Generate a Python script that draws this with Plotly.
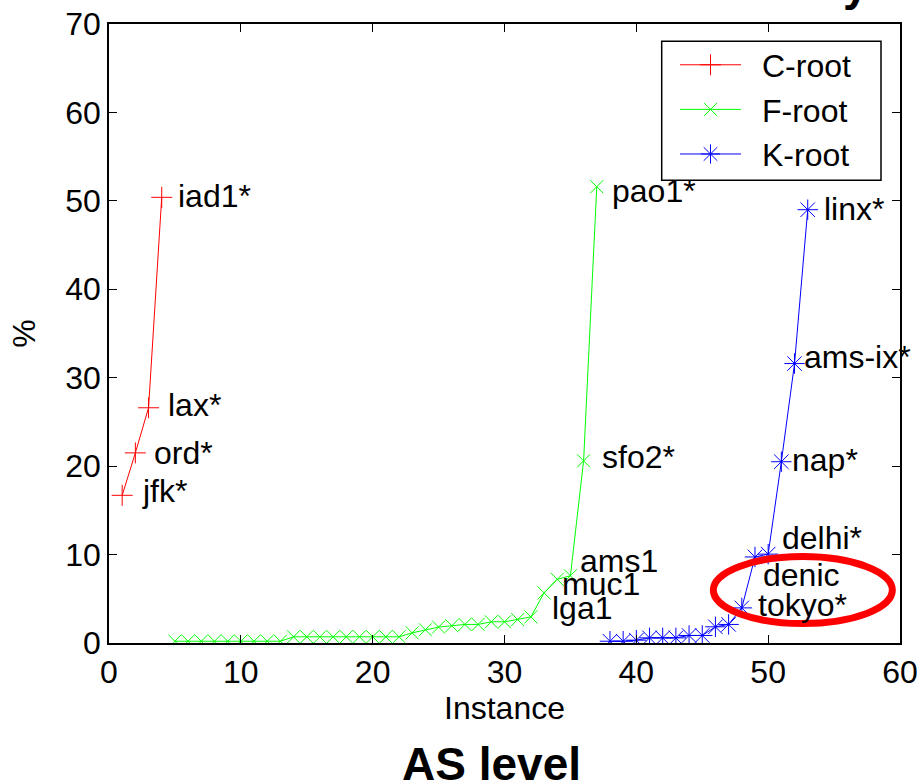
import plotly.graph_objects as go

# C-root instances
c_x = [1, 2, 3, 4]
c_y = [16.7, 21.5, 26.6, 50.4]
c_labels = ["jfk*", "ord*", "lax*", "iad1*"]

# F-root instances
f_x = list(range(5, 38))
f_y = [0.2, 0.2, 0.2, 0.2, 0.2, 0.2, 0.2, 0.2, 0.2,
       0.7, 0.7, 0.7, 0.7, 0.7, 0.7, 0.7, 0.7, 0.7,
       1.15, 1.5, 1.8, 1.95, 2.1, 2.1, 2.4, 2.4, 2.65, 2.95,
       5.67, 7.2, 7.6, 20.6, 51.6]

# K-root instances
k_x = list(range(38, 54))
k_y = [0.2, 0.2, 0.32, 0.58, 0.58, 0.58, 0.85, 0.85, 1.83, 2.1,
       3.97, 9.73, 10.05, 20.5, 31.6, 49.0]

# (series, instance x, label, xshift px, yshift px)
point_labels = [
    ("C", 1, "jfk*", 18, 4), ("C", 2, "ord*", 17, 0),
    ("C", 3, "lax*", 17, 3), ("C", 4, "iad1*", 14, 1),
    ("F", 33, "lga1", 6, -15), ("F", 34, "muc1", 3, -5),
    ("F", 35, "ams1", 8, 15), ("F", 36, "sfo2*", 16, 4),
    ("F", 37, "pao1*", 13, -4),
    ("K", 48, "tokyo*", 14, 3), ("K", 49, "denic", 6, -18),
    ("K", 50, "delhi*", 12, 16), ("K", 51, "nap*", 9, 2),
    ("K", 52, "ams-ix*", 7, 7), ("K", 53, "linx*", 14, 1),
]

x_ticks = [0, 10, 20, 30, 40, 50, 60]
y_ticks = [0, 10, 20, 30, 40, 50, 60, 70]

FONT = "Arial, Liberation Sans, Helvetica, sans-serif"

series = {
    "C": (c_x, c_y, "C-root", "#ff0000", "cross-thin-open", 15),
    "F": (f_x, f_y, "F-root", "#00ff00", "x-thin-open", 13),
    "K": (k_x, k_y, "K-root", "#0000ff", "asterisk-open", 17),
}

# plot-area pixel geometry, used to place the legend frame and captions
L, R, T, B = 109, 900, 23.5, 643.5


def px_to_paper_x(p):
    return (p - L) / (R - L)


def px_to_paper_y(p):
    return (B - p) / (B - T)


fig = go.Figure()
for key, (xs, ys, name, color, symbol, size) in series.items():
    fig.add_trace(go.Scatter(
        x=xs, y=ys, name="\u2002" + name, mode="lines+markers",
        line=dict(color=color, width=1),
        marker=dict(symbol=symbol, size=size, color=color,
                    line=dict(color=color, width=1)),
    ))

annotations = []
for key, xi, text, dx, dy in point_labels:
    xs, ys = series[key][0], series[key][1]
    yi = ys[xs.index(xi)]
    annotations.append(dict(
        x=xi, y=yi, xref="x", yref="y", text=text, showarrow=False,
        xanchor="left", yanchor="middle", xshift=dx, yshift=dy,
        font=dict(family=FONT, size=32, color="black"),
    ))

# chart caption below the axes
annotations.append(dict(
    x=0.483, y=-0.195, xref="paper", yref="paper", text="<b>AS level</b>",
    showarrow=False, xanchor="center", yanchor="middle",
    font=dict(family=FONT, size=46, color="black"),
))
# tail of the heading above the frame
annotations.append(dict(
    x=px_to_paper_x(856), y=px_to_paper_y(11), xref="paper", yref="paper",
    text="<b>y</b>", showarrow=False, xanchor="center", yanchor="bottom",
    font=dict(family=FONT, size=46, color="black"),
))

fig.update_layout(
    width=919, height=782,
    margin=dict(l=L, r=919 - R, t=T, b=782 - B),
    paper_bgcolor="white", plot_bgcolor="white",
    font=dict(family=FONT, size=32, color="black"),
    annotations=annotations,
    shapes=[
        dict(type="circle", xref="x", yref="y",
             x0=45.84, x1=59.42, y0=2.2, y1=9.77,
             line=dict(color="#ff0000", width=7)),
        # legend frame
        dict(type="rect", xref="paper", yref="paper", layer="above",
             x0=px_to_paper_x(661.7), x1=px_to_paper_x(881),
             y0=px_to_paper_y(180), y1=px_to_paper_y(40.7),
             fillcolor="white", line=dict(color="black", width=1.5)),
    ],
    legend=dict(
        x=px_to_paper_x(675), y=px_to_paper_y(37),
        xanchor="left", yanchor="top",
        bgcolor="rgba(0,0,0,0)", borderwidth=0,
        font=dict(family=FONT, size=32, color="black"),
        itemwidth=61,
    ),
    xaxis=dict(
        range=[0, 60], tickvals=x_ticks, ticktext=[str(v) for v in x_ticks],
        showgrid=False, zeroline=False, showline=True, linecolor="black",
        linewidth=1.5, mirror="ticks", ticks="inside", ticklen=8,
        tickcolor="black", tickwidth=1, automargin=False,
        title=dict(text="Instance", standoff=2,
                   font=dict(family=FONT, size=32)),
    ),
    yaxis=dict(
        range=[0, 70], tickvals=y_ticks, ticktext=[str(v) for v in y_ticks],
        showgrid=False, zeroline=False, showline=True, linecolor="black",
        linewidth=1.5, mirror="ticks", ticks="inside", ticklen=8,
        tickcolor="black", tickwidth=1, automargin=False,
        title=dict(text="%", standoff=20,
                   font=dict(family=FONT, size=32)),
    ),
)

fig.write_html("out.html")
